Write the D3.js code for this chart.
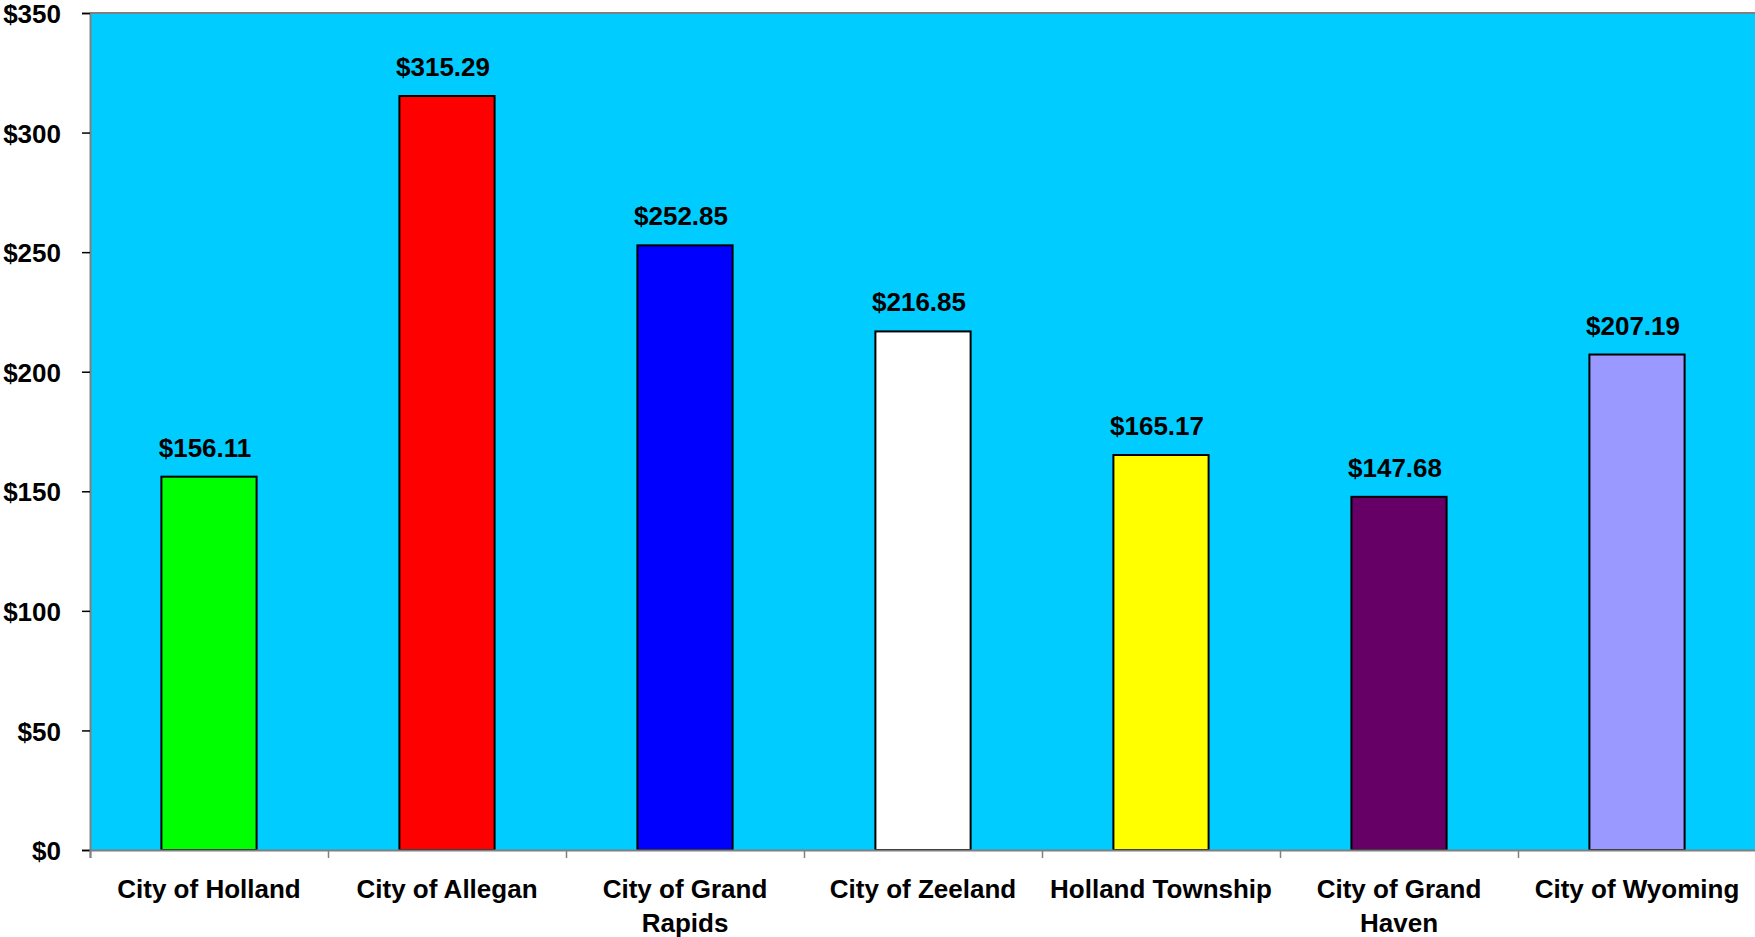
<!DOCTYPE html>
<html>
<head>
<meta charset="utf-8">
<script src="https://cdnjs.cloudflare.com/ajax/libs/d3/7.8.5/d3.min.js"></script>
<style>
  body { margin: 0; background: #fff; }
  text { font-family: "Liberation Sans", Arial, sans-serif; font-weight: bold; fill: #000; }
</style>
</head>
<body>
<div id="barChart"></div>
<script>
var categories = ["City of Holland", "City of Allegan", "City of Grand Rapids", "City of Zeeland",
                  "Holland Township", "City of Grand Haven", "City of Wyoming"];
var values = [156.11, 315.29, 252.85, 216.85, 165.17, 147.68, 207.19];
var colors = ["#00ff00", "#ff0000", "#0000ff", "#ffffff", "#ffff00", "#660066", "#9999ff"];
var labelLines = [["City of Holland"], ["City of Allegan"], ["City of Grand", "Rapids"], ["City of Zeeland"],
                  ["Holland Township"], ["City of Grand", "Haven"], ["City of Wyoming"]];
var yTicks = [0, 50, 100, 150, 200, 250, 300, 350];

function barChart() {
    var W = 1755, H = 937;
    var margin = {top: 13, right: -1, bottom: 87, left: 90},
        width = W - margin.left - margin.right,
        height = H - margin.top - margin.bottom;

    var svg = d3.select("#barChart").append("svg")
        .attr("width", W)
        .attr("height", H)
        .append("g")
        .attr("transform", "translate(" + margin.left + "," + margin.top + ")");

    var x = d3.scaleBand().domain(categories).range([0, width]);
    var xi = d3.scaleLinear().domain([0, categories.length]).range([0, width]);
    var y = d3.scaleLinear().domain([0, 350]).range([height, 0]);

    // plot background
    svg.append("rect")
        .attr("width", width)
        .attr("height", height)
        .attr("fill", "#00ccff");

    svg.append("line")
        .attr("x1", 0).attr("x2", width)
        .attr("y1", 0).attr("y2", 0)
        .attr("stroke", "#808080").attr("stroke-width", 2);

    var bw = x.bandwidth() * 0.4;
    svg.selectAll(".bar")
        .data(values)
        .enter().append("rect")
        .attr("class", "bar")
        .attr("x", function(d, i) { return x(categories[i]) + (x.bandwidth() - bw) / 2; })
        .attr("y", function(d) { return y(d); })
        .attr("width", bw)
        .attr("height", function(d) { return height - y(d); })
        .attr("fill", function(d, i) { return colors[i]; })
        .attr("stroke", "#000")
        .attr("stroke-width", 2);

    svg.selectAll(".val")
        .data(values)
        .enter().append("text")
        .attr("class", "val")
        .attr("x", function(d, i) { return x(categories[i]) + x.bandwidth() / 2 - 4; })
        .attr("y", function(d) { return y(d) - 20; })
        .attr("text-anchor", "middle")
        .style("font-size", "26px")
        .text(function(d) { return "$" + d.toFixed(2); });

    // y axis
    var yAxis = svg.append("g")
        .call(d3.axisLeft(y).tickValues(yTicks).tickSize(8).tickPadding(21)
            .tickFormat(function(d) { return "$" + d; }));
    yAxis.select(".domain").attr("stroke", "#808080").attr("stroke-width", 2);
    yAxis.selectAll(".tick line").attr("stroke", "#000").attr("stroke-width", 1.5);
    yAxis.selectAll(".tick text").style("font-size", "26px").attr("dy", "0.37em");

    // x axis
    var xAxis = svg.append("g")
        .attr("transform", "translate(0," + height + ")")
        .call(d3.axisBottom(xi).tickValues(d3.range(categories.length + 1)).tickSize(8).tickFormat(""));
    xAxis.select(".domain").attr("stroke", "#808080").attr("stroke-width", 2);
    xAxis.selectAll(".tick line").attr("stroke", "#808080").attr("stroke-width", 1.5);

    var lab = svg.selectAll(".cat")
        .data(labelLines)
        .enter().append("text")
        .attr("class", "cat")
        .attr("text-anchor", "middle")
        .style("font-size", "26px")
        .attr("transform", function(d, i) {
            return "translate(" + (x(categories[i]) + x.bandwidth() / 2) + "," + (height + 48) + ")";
        });
    lab.selectAll("tspan")
        .data(function(d) { return d; })
        .enter().append("tspan")
        .attr("x", 0)
        .attr("dy", function(d, j) { return j ? 34 : 0; })
        .text(function(d) { return d; });
}

barChart();
</script>
</body>
</html>
